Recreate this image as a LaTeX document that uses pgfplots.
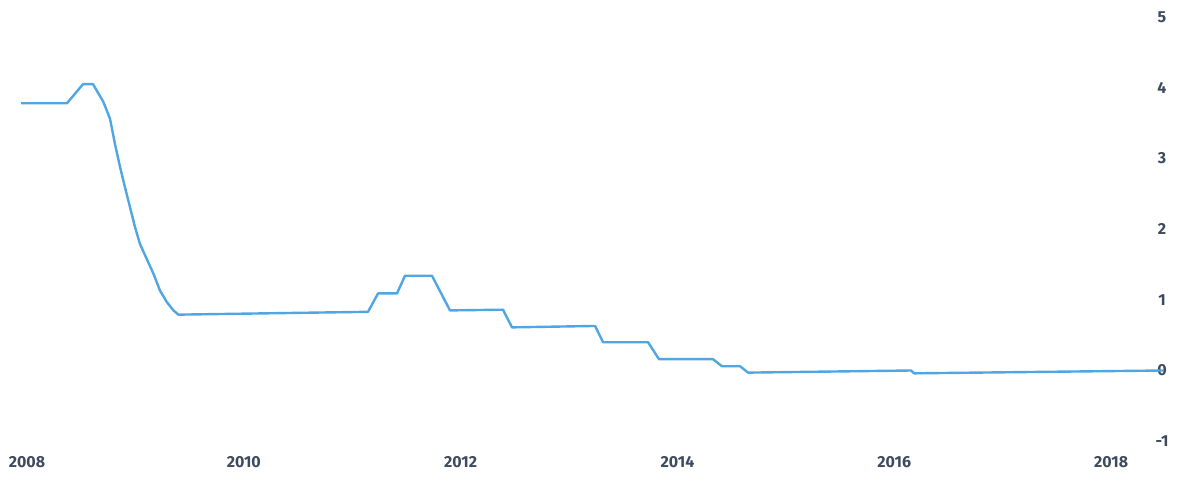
\documentclass[border=0pt]{standalone}
\usepackage{pgfplots}
\pgfplotsset{compat=1.18}
\usepackage{fontspec}
\setmainfont{Fira Sans}
\definecolor{lineblue}{HTML}{4FA6E2}
\definecolor{labelgray}{HTML}{3E4A5E}
\begin{document}
\begin{tikzpicture}
\begin{axis}[
  scale only axis,
  width=1180pt, height=489pt,
  xmin=2007.751, xmax=2018.636,
  ymin=-1.676, ymax=5.240,
  axis line style={draw=none},
  tick style={draw=none},
  xtick={2008,2010,2012,2014,2016,2018},
  xticklabels={2008,2010,2012,2014,2016,2018},
  ytick={-1,0,1,2,3,4,5},
  yticklabel pos=right,
  /pgf/number format/assume math mode=true,
  ticklabel style={font=\fontsize{16}{18}\selectfont\bfseries, text=labelgray},
  xticklabel style={anchor=center, yshift=27pt},
  yticklabel style={anchor=center, xshift=-18pt},
  clip=false,
]
\addplot[lineblue, line width=2.4pt, line join=round] coordinates {
(2007.945,3.78) (2008.369,3.78) (2008.517,4.05) (2008.609,4.05)
(2008.704,3.80) (2008.766,3.56) (2008.812,3.20) (2008.858,2.88)
(2008.904,2.59) (2008.950,2.31) (2008.996,2.03) (2009.042,1.79)
(2009.104,1.58) (2009.166,1.37) (2009.227,1.13) (2009.289,0.97)
(2009.351,0.85) (2009.397,0.79)
(2011.146,0.83) (2011.238,1.09) (2011.413,1.09) (2011.487,1.34)
(2011.736,1.34) (2011.902,0.85) (2012.391,0.86) (2012.474,0.61)
(2013.240,0.63) (2013.314,0.40) (2013.729,0.40) (2013.830,0.16)
(2014.328,0.16) (2014.411,0.06) (2014.578,0.06) (2014.651,-0.03)
(2016.155,0.00) (2016.183,-0.04) (2018.480,0.00)
};
\end{axis}
\end{tikzpicture}
\end{document}
